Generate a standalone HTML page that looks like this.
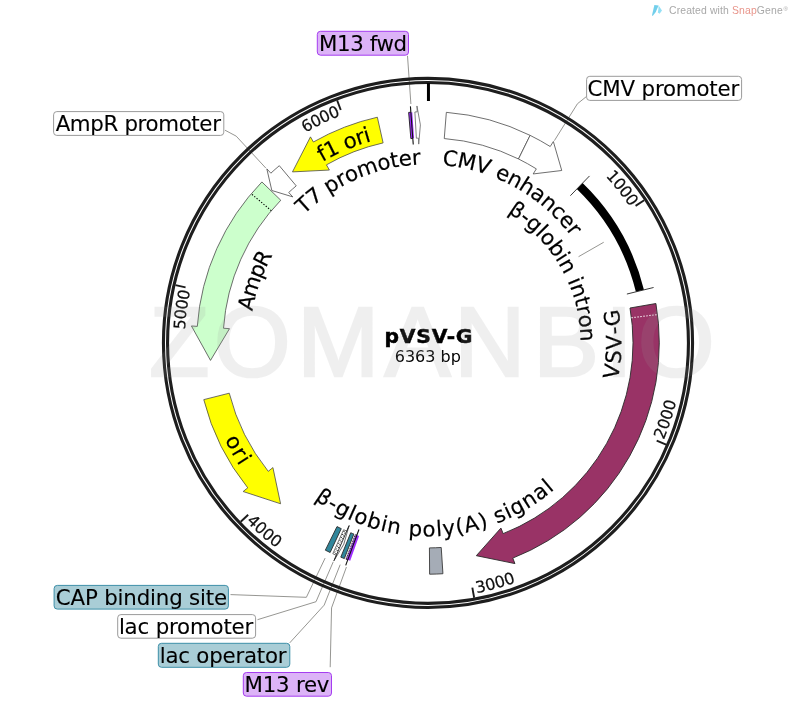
<!DOCTYPE html>
<html lang="en"><head><meta charset="utf-8"><title>pVSV-G plasmid map</title>
<style>
html,body{margin:0;padding:0;background:#fff;}
body{width:796px;height:703px;overflow:hidden;}
svg{display:block;}
text{font-family:"DejaVu Sans","Liberation Sans",sans-serif;fill:#000;}
.lab,.tk{stroke:#000;stroke-width:0.2px;}
.blab{stroke:#000;stroke-width:0.1px;}
.ttl{stroke:#000;stroke-width:0.5px;}
.tk{fill:#111;}
.ttl{font-weight:bold;font-size:20.3px;}
.bp{font-size:16px;}
.wm{font-family:"Liberation Sans",sans-serif;font-size:98.4px;fill:#999;stroke:#999;stroke-width:2.7px;stroke-linejoin:miter;opacity:0.15;}
.cr text{font-family:"Liberation Sans",sans-serif;fill:#a8a8a8;}
.cr .sn{fill:#e8958b;}
</style></head>
<body>
<svg width="796" height="703" viewBox="0 0 796 703">
<rect width="796" height="703" fill="#fff"/>
<polyline points="586.6,96.4 577.44,103.75 554.39,140.64" fill="none" stroke="#8a8a86" stroke-width="0.9"/>
<polyline points="225,130.2 236.22,136.16 265.8,168.05" fill="none" stroke="#8a8a86" stroke-width="0.9"/>
<polyline points="407.5,55.8 410.9,104" fill="none" stroke="#8a8a86" stroke-width="0.9"/>
<polyline points="578.56,256.68 603.72,242.26" fill="none" stroke="#8a8a86" stroke-width="0.9"/>
<polyline points="230.5,594.6 306.37,597.32 325.14,558.08" fill="none" stroke="#8a8a86" stroke-width="0.9"/>
<polyline points="257.5,619.7 316,601.71 333.28,561.78" fill="none" stroke="#8a8a86" stroke-width="0.9"/>
<polyline points="289.7,642.9 324.19,605.1 340.2,564.65" fill="none" stroke="#8a8a86" stroke-width="0.9"/>
<polyline points="330.2,667.2 331.55,607.89 346.43,567.02" fill="none" stroke="#8a8a86" stroke-width="0.9"/>
<circle cx="428.0" cy="342.9" r="264.55" fill="none" stroke="#1e1e1e" stroke-width="3.1"/>
<circle cx="428.0" cy="342.9" r="260.45" fill="none" stroke="#1e1e1e" stroke-width="3.1"/>
<line x1="428.45" y1="83" x2="428.45" y2="101" stroke="#000" stroke-width="3"/>
<line x1="644.17" y1="200.24" x2="635.57" y2="205.91" stroke="#1c1c1c" stroke-width="1.9"/>
<text class="tk" font-size="16" x="605.5 612.02 618.24 624.16" y="176.28 183.5 190.98 198.71" rotate="48.01 50.3 52.59 54.88">1000</text>
<line x1="666.14" y1="444.74" x2="656.67" y2="440.69" stroke="#1c1c1c" stroke-width="1.9"/>
<text class="tk" font-size="16" x="663.8 667.49 670.8 673.72" y="440.11 430.62 420.99 411.24" rotate="-68.74 -71.03 -73.31 -75.6">2000</text>
<line x1="474.17" y1="597.75" x2="472.33" y2="587.62" stroke="#1c1c1c" stroke-width="1.9"/>
<text class="tk" font-size="16" x="476.75 486.7 496.56 506.31" y="593.25 591.1 588.56 585.63" rotate="-12.16 -14.45 -16.74 -19.02">3000</text>
<line x1="240.73" y1="521.81" x2="248.17" y2="514.7" stroke="#1c1c1c" stroke-width="1.9"/>
<text class="tk" font-size="16" x="245.9 253.18 260.73 268.54" y="521.48 528.61 535.44 541.96" rotate="44.41 42.13 39.84 37.55">4000</text>
<line x1="175.52" y1="285.14" x2="185.56" y2="287.44" stroke="#1c1c1c" stroke-width="1.9"/>
<text class="tk" font-size="16" x="184.91 185.63 186.74 188.24" y="329.66 319.95 310.28 300.67" rotate="274.32 276.61 278.9 281.19">5000</text>
<line x1="337.14" y1="100.36" x2="340.75" y2="110.01" stroke="#1c1c1c" stroke-width="1.9"/>
<text class="tk" font-size="16" x="305.15 313.65 322.33 331.18" y="132.71 127.97 123.57 119.53" rotate="330.89 333.18 335.47 337.76">6000</text>
<path d="M446.35,112.33 A231.3,231.3 0 0 1 530.12,135.36 L518.51,158.96 A205,205 0 0 0 444.26,138.55 Z" fill="#fff" stroke="#4a4a4a" stroke-width="0.8" stroke-linejoin="miter"/>
<path d="M530.12,135.36 A231.3,231.3 0 0 1 550.23,146.53 L553.35,141.52 L561.74,170.49 L533.16,173.95 L536.33,168.86 A205,205 0 0 0 518.51,158.96 Z" fill="#fff" stroke="#4a4a4a" stroke-width="0.8" stroke-linejoin="miter"/>
<path d="M579.71,186.07 A218.2,218.2 0 0 1 639.9,290.85" fill="none" stroke="#000" stroke-width="8.3"/>
<line x1="570.39" y1="195.7" x2="589.51" y2="175.94" stroke="#222" stroke-width="0.9"/>
<line x1="626.89" y1="294.05" x2="653.59" y2="287.49" stroke="#222" stroke-width="0.9"/>
<path d="M655.92,303.53 A231.3,231.3 0 0 1 512.77,558.11 L514.93,563.6 L476.34,555.68 L500.93,528.05 L503.13,533.64 A205,205 0 0 0 630.01,308.01 Z" fill="#993366" stroke="#2a2a2a" stroke-width="0.9" stroke-linejoin="miter"/>
<line x1="631.45" y1="317.77" x2="657.56" y2="314.55" stroke="#fff" stroke-width="1.1" stroke-dasharray="1.3,1.7"/>
<path d="M442.93,573.72 A231.3,231.3 0 0 1 429.61,574.19 L429.43,547.9 A205,205 0 0 0 441.23,547.47 Z" fill="#a5acb6" stroke="#3a3a3a" stroke-width="0.9"/>
<path d="M203.77,399.64 A231.3,231.3 0 0 0 247.74,487.83 L243.14,491.53 L280.59,503.77 L272.91,467.59 L268.24,471.35 A205,205 0 0 1 229.26,393.19 Z" fill="#ffff00" stroke="#4a4a4a" stroke-width="0.8" stroke-linejoin="miter"/>
<path d="M261.9,181.94 A231.3,231.3 0 0 0 197.29,326.36 L191.41,325.94 L210.5,360.4 L229.51,328.67 L223.52,328.24 A205,205 0 0 1 280.78,200.24 Z" fill="#ccffcc" stroke="#4a4a4a" stroke-width="0.8" stroke-linejoin="miter"/>
<line x1="271.33" y1="210.69" x2="251.23" y2="193.73" stroke="#000" stroke-width="1.1" stroke-dasharray="1.3,1.7"/>
<path d="M279.32,165.71 A231.3,231.3 0 0 0 270.85,173.19 L266.84,168.86 L271.84,190.51 L292.79,196.89 L288.71,192.49 A205,205 0 0 1 296.23,185.86 Z" fill="#fff" stroke="#4a4a4a" stroke-width="0.8" stroke-linejoin="miter"/>
<path d="M377.35,117.21 A231.3,231.3 0 0 0 313.4,141.99 L310.48,136.86 L292.47,171.9 L329.4,170.04 L326.43,164.83 A205,205 0 0 1 383.11,142.88 Z" fill="#ffff00" stroke="#4a4a4a" stroke-width="0.8" stroke-linejoin="miter"/>
<path d="M408.65,112.41 L412.27,112.14 L414.06,138.37 L410.85,138.62 Z" fill="#a030ff"/><path d="M410.86,112.24 L408.65,112.41 L410.85,138.62 L412.81,138.46" fill="none" stroke="#1a1a1a" stroke-width="0.9"/><line x1="413.25" y1="144.45" x2="410.42" y2="106.35" stroke="#111" stroke-width="1.1"/>
<path d="M414.89,111.97 L417.23,111.85 L416.95,105.96 L420.38,124.83 L418.73,144.12 L418.45,138.12 L416.38,138.23 Z" fill="#fff" stroke="#666" stroke-width="0.8" stroke-linejoin="miter"/>
<path d="M330.14,552.48 A231.3,231.3 0 0 1 325.34,550.17 L337.01,526.6 A205,205 0 0 0 341.27,528.65 Z" fill="#31869b" stroke="#2a2a2a" stroke-width="0.9"/>
<path d="M332.82,553.71 L336.32,555.26 L333.99,560.67 L343.8,544.2 L349.13,525.6 L346.75,531.11 L343.64,529.74 Z" fill="#fff" stroke="#333" stroke-width="0.7" stroke-linejoin="miter"/>
<line x1="349.13" y1="525.6" x2="333.99" y2="560.67" stroke="#222" stroke-width="0.9"/>
<line x1="344.21" y1="531.09" x2="334.33" y2="553.29" stroke="#000" stroke-width="1.0" stroke-dasharray="1,2.2"/>
<line x1="345.06" y1="532.56" x2="335.73" y2="553.91" stroke="#000" stroke-width="1.0" stroke-dasharray="1,2.2"/>
<path d="M344.36,558.55 A231.3,231.3 0 0 1 340.79,557.13 L350.71,532.77 A205,205 0 0 0 353.87,534.03 Z" fill="#31869b" stroke="#2a2a2a" stroke-width="0.9"/>
<path d="M346.05,559.2 L350.22,560.73 L359.06,535.96 L355.37,534.6 Z" fill="#a030ff"/><path d="M347.75,559.83 L346.05,559.2 L355.37,534.6 L356.88,535.17" fill="none" stroke="#1a1a1a" stroke-width="0.9"/><line x1="355.37" y1="534.6" x2="346.05" y2="559.2" stroke="#fff" stroke-width="0.8" stroke-dasharray="1.2,1.4"/><line x1="358.96" y1="529.54" x2="345.71" y2="565.37" stroke="#111" stroke-width="1.1"/>
<text class="lab" font-size="21.33" x="441.9 456.52 474.31 488.02 494.21 506.05 517.81 529.06 539.42 549.49 557.7 566.18" y="164.99 166.66 170.56 174.97 177.22 182.45 188.72 195.86 203.53 212.26 220.37 230.13" rotate="6.86 12.15 17.38 20.76 23.89 28.11 32.39 36.6 40.81 44.81 48.74 52.19">CMV enhancer</text>
<text class="lab" font-size="21.33" x="507.47 518.62 524.67 534.6 538.76 547.28 555.09 558.32 564.71 567.53 569.9 574.22 576.38 578.25 580.05" y="212.45 220.06 224.63 233.67 237.73 247.48 258.39 263.23 275.01 281.04 286.36 299.04 307 315.46 328.28" rotate="33.9 37.86 41.8 45.41 48.93 53.88 57.49 61.1 64.86 67.2 70.81 74.87 78.05 82.1 87.04">β-globin intron</text>
<text class="lab" font-size="21.33" x="618.11 620.44 621.52 621.33 620.87" y="379.68 364.2 349.65 334.01 325.26" rotate="-81.21 -85.69 -90.16 -93.77 -97.67">VSV-G</text>
<text class="lab" font-size="21.33" x="314.22 326.32 333.69 346.6 352.81 365.86 379.73 386.35 400.55 408.17 422.58 436.53 443.36 456.79 465.89 480.93 489.73 496.98 508.05 514.26 526.94 539.05 550.15" y="499.56 507.57 512 518.47 521.32 526.28 530.3 531.98 534.47 535.5 536.43 536.23 535.89 534.29 532.79 529.07 526.32 523.77 519.09 516.24 509.33 501.49 493" rotate="33.98 30.56 27.14 24 20.92 16.72 13.57 10.42 7.15 3.88 -0.33 -3.4 -6.42 -9.79 -13.44 -17.1 -19.61 -22.52 -25.31 -28.46 -32.73 -36.94 -40.01">β-globin poly(A) signal</text>
<text class="lab" font-size="21.33" x="224.67 231.36 236.55" y="439.45 452.33 461.14" rotate="62.94 59.79 57.55">ori</text>
<text class="lab" font-size="21.33" x="252.15 254.87 260.97 265.75" y="311.42 298.24 279.57 268.13" rotate="282.49 287.8 292.94 297.12">AmpR</text>
<text class="lab" font-size="21.33" x="322.18 328.42 340.31 346.2 358.1 366.13" y="162.05 158.46 152.6 149.92 145.36 142.72" rotate="330.69 333.49 336.19 338.81 341.71 343.64">f1 ori</text>
<text class="lab" font-size="21.33" x="303.65 313.16 323.76 329.1 340.5 348.02 359.63 379.11 391.58 399.58 412.39" y="214.67 206.08 197.96 194.15 187.26 183.19 177.69 171.1 168.1 166.55 165.03" rotate="317.97 322.17 325.36 328.55 332.06 335.49 340.85 346.21 349.57 352.95 356.39">T7 promoter</text>
<rect x="317.3" y="31.3" width="91.2" height="23.9" rx="3.2" fill="#dcb3f7" stroke="#a53df0" stroke-width="1"/><text class="blab" font-size="21.33" x="319.01" y="51" letter-spacing="-0.415">M13 fwd</text>
<rect x="586.6" y="76.3" width="155" height="24.1" rx="3.2" fill="#fff" stroke="#9a9a9a" stroke-width="1"/><text class="blab" font-size="21.33" x="587.6" y="95.8" letter-spacing="-0.183">CMV promoter</text>
<rect x="53.6" y="111.6" width="170.2" height="23.8" rx="3.2" fill="#fff" stroke="#9a9a9a" stroke-width="1"/><text class="blab" font-size="21.33" x="55.63" y="131" letter-spacing="-0.349">AmpR promoter</text>
<rect x="54.1" y="585.4" width="174.3" height="23.7" rx="3.2" fill="#a9cdd6" stroke="#3d8fa8" stroke-width="1"/><text class="blab" font-size="21.33" x="55.8" y="604.7" letter-spacing="-0.174">CAP binding site</text>
<rect x="117.7" y="614.6" width="137.9" height="23.6" rx="3.2" fill="#fff" stroke="#9a9a9a" stroke-width="1"/><text class="blab" font-size="21.33" x="118.89" y="634" letter-spacing="-0.185">lac promoter</text>
<rect x="158.3" y="643.3" width="131.5" height="24" rx="3.2" fill="#a9cdd6" stroke="#3d8fa8" stroke-width="1"/><text class="blab" font-size="21.33" x="159.69" y="663" letter-spacing="-0.212">lac operator</text>
<rect x="243.3" y="672.5" width="88.2" height="23.7" rx="3.2" fill="#dcb3f7" stroke="#a53df0" stroke-width="1"/><text class="blab" font-size="21.33" x="244.61" y="692.2" letter-spacing="-0.252">M13 rev</text>
<text class="ttl" x="384.6" y="343.3" letter-spacing="0.75">pVSV-G</text>
<text class="bp" x="427.8" y="362" text-anchor="middle">6363 bp</text>
<text class="wm" x="149.2 214.1 297.2 384.7 454.3 533.3 605.2 638" y="375.95">ZOMANBIO</text>
<g class="cr"><path d="M654.4,5.1 L658.6,5.6 L655.8,12 L652.7,15.9 L652,15.2 Z" fill="#72cfeb"/><path d="M658.6,5.6 L662,10.4 L659.6,13.8 L657.8,12.4 L658.4,9 Z" fill="#95e0f5"/><text x="669" y="13.8" font-size="10.4" textLength="113.7" lengthAdjust="spacing">Created with <tspan class="sn">Snap</tspan>Gene</text><text x="783.4" y="10.6" font-size="6">®</text></g>
</svg>
</body></html>
